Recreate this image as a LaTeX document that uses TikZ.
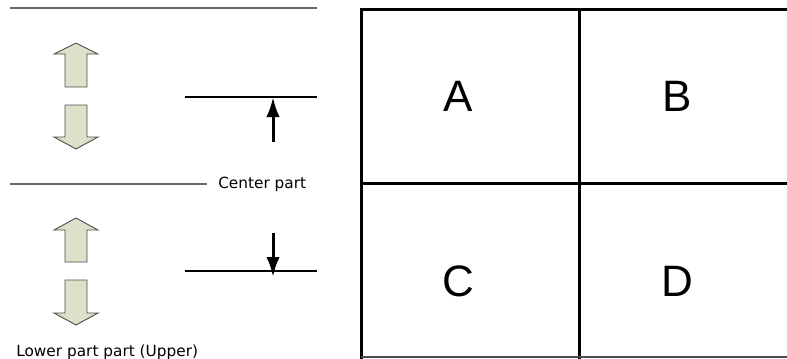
\documentclass[tikz,border=0pt]{standalone}
\usepackage{fontspec}
\usetikzlibrary{arrows.meta}
\setmainfont{DejaVu Sans}
\newfontfamily\gridfont{Liberation Sans}
\begin{document}
\begin{tikzpicture}[x=0.75pt,y=-0.75pt,
  grayline/.style={draw=black!60,line width=2pt*0.75},
  thinline/.style={draw=black,line width=1.2pt*0.75},
  blockarrow/.style={draw=black!70,fill=arrowfill,line width=0.9pt*0.75,line join=miter},
  gridline/.style={draw=black,line width=3pt*0.75},
  lbl/.style={inner sep=0pt,font=\fontsize{11.5pt}{13pt}\selectfont},
  big/.style={inner sep=0pt,font=\gridfont\fontsize{33pt}{36pt}\selectfont},
  pointer/.style={draw=black,line width=3pt*0.75,-{Latex[length=15pt,width=10pt]}}
]
\definecolor{arrowfill}{HTML}{DDE1CA}
\useasboundingbox (0,0) rectangle (787,358);
\clip (0,0) rectangle (787,358);
% horizontal reference lines
\coordinate (t1) at (10,8);
\coordinate (t2) at (317,8);
\draw[grayline] (t1) -- (t2);
\coordinate (c1) at (10,184);
\coordinate (c2) at (207,184);
\draw[grayline] (c1) -- (c2);
\node[lbl,anchor=west] (center) at (218,184) {Center part};
\node[lbl,anchor=west] (lower) at (16,352) {Lower part part (Upper)};
% upper set of block arrows
\draw[blockarrow] (76,43) -- (98,54) -- (87,54) -- (87,87) -- (65,87) -- (65,54) -- (54,54) -- cycle;
\draw[blockarrow] (65,105) -- (87,105) -- (87,137) -- (98,137) -- (76,149) -- (54,137) -- (65,137) -- cycle;
% lower set of block arrows
\draw[blockarrow] (76,218) -- (98,230) -- (87,230) -- (87,262) -- (65,262) -- (65,230) -- (54,230) -- cycle;
\draw[blockarrow] (65,280) -- (87,280) -- (87,313) -- (98,313) -- (76,325) -- (54,313) -- (65,313) -- cycle;
% level lines with pointers
\coordinate (u1) at (185,97);
\coordinate (u2) at (317,97);
\draw[thinline] (u1) -- (u2);
\coordinate (ua) at (273,142);
\coordinate (ub) at (273,97);
\draw[pointer] (ua) -- (ub);
\coordinate (l1) at (185,271);
\coordinate (l2) at (317,271);
\draw[thinline] (l1) -- (l2);
\coordinate (la) at (273,233);
\coordinate (lb) at (273,277);
\draw[pointer] (la) -- (lb);
% grid
\draw[gridline] (361,370) -- (361,9) -- (800,9);
\draw[gridline] (579,9) -- (579,370);
\draw[gridline] (361,183) -- (800,183);
\draw[draw=black!70,line width=1.2pt*0.75] (361,357) -- (800,357);
\node[big] (A) at (458,96) {A};
\node[big] (B) at (677,96) {B};
\node[big] (C) at (458,281) {C};
\node[big] (D) at (677,281) {D};
\end{tikzpicture}
\end{document}
